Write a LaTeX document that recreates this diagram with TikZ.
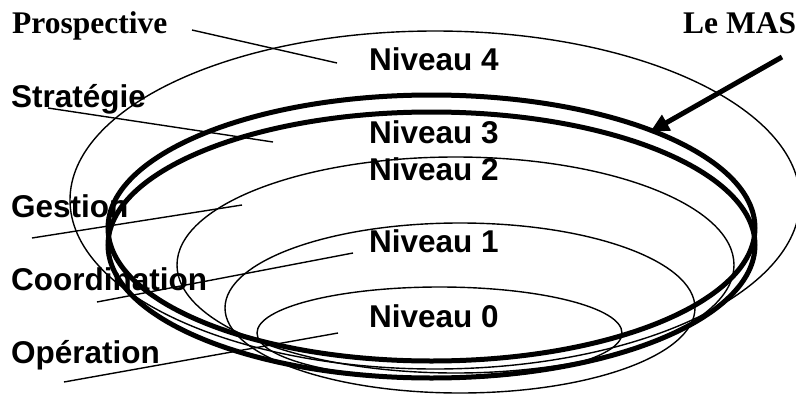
\documentclass[tikz,border=0pt]{standalone}
\usepackage{fontspec}
\setmainfont{Liberation Serif}
\newfontfamily\sansb{Liberation Sans}
\usetikzlibrary{arrows.meta}
\begin{document}
\begin{tikzpicture}[x=1pt,y=-1pt,
  thinline/.style={line width=1.4pt},
  thickline/.style={line width=5pt},
  lab/.style={font=\sansb\bfseries\fontsize{31.5}{32}\selectfont, anchor=base west, inner sep=0pt},
  serlab/.style={font=\bfseries\fontsize{31.5}{32}\selectfont, anchor=base west, inner sep=0pt}]
\useasboundingbox (0,0) rectangle (796,394);
% ellipses
\draw[thinline] (435,200) ellipse [x radius=365pt, y radius=169pt];
\draw[thickline] (431.5,228) ellipse [x radius=323.5pt, y radius=133pt];
\draw[thickline] (431.5,245) ellipse [x radius=323.5pt, y radius=133pt];
\draw[thinline] (455.5,265) ellipse [x radius=278.5pt, y radius=108pt];
\draw[thinline] (460,308) ellipse [x radius=235pt, y radius=85pt];
\draw[thinline] (439.5,333) ellipse [x radius=182.5pt, y radius=46pt];
% labels
\node[serlab] (prosp) at (12,33) {Prospective};
\node[serlab] (mas) at (683,33) {Le MAS};
\node[lab] (strat) at (11,107) {Stratégie};
\node[lab] (gest) at (11,217) {Gestion};
\node[lab] (coord) at (11,290) {Coordination};
\node[lab] (oper) at (11,363) {Opération};
\node[lab] (n4) at (369,70) {Niveau 4};
\node[lab] (n3) at (369,143) {Niveau 3};
\node[lab] (n2) at (369,180) {Niveau 2};
\node[lab] (n1) at (369,252) {Niveau 1};
\node[lab] (n0) at (369,327) {Niveau 0};
% leader lines
\coordinate (pA) at (192,30);  \coordinate (pB) at (337,63);
\coordinate (sA) at (48,108);  \coordinate (sB) at (273,142);
\coordinate (gA) at (32,238);  \coordinate (gB) at (242,205);
\coordinate (cA) at (97,302);  \coordinate (cB) at (353,253);
\coordinate (oA) at (64,382);  \coordinate (oB) at (338,333);
\draw[thinline] (pA) -- (pB);
\draw[thinline] (sA) -- (sB);
\draw[thinline] (gA) -- (gB);
\draw[thinline] (cA) -- (cB);
\draw[thinline] (oA) -- (oB);
% arrow
\coordinate (aA) at (782,57);
\coordinate (aB) at (650,132);
\draw[line width=5pt, -{Triangle[length=19pt,width=17pt]}] (aA) -- (aB);
\end{tikzpicture}
\end{document}
